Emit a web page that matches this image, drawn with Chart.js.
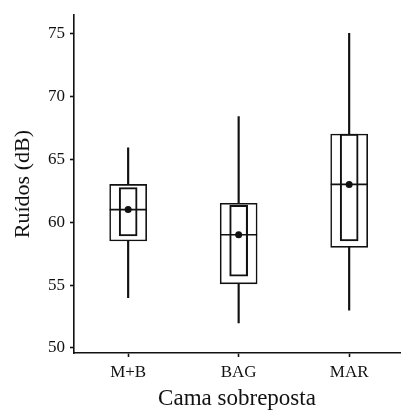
<!DOCTYPE html>
<html>
<head>
<meta charset="utf-8">
<script src="https://cdn.jsdelivr.net/npm/chart.js@4"></script>
<style>
  html, body { margin: 0; padding: 0; background: #fff; }
  #wrap { width: 401px; height: 410px; }
</style>
</head>
<body>
<div id="wrap"><canvas id="boxChart"></canvas></div>
<script>
// values
const categories = ['M+B', 'BAG', 'MAR'];
const whiskerLow = [54.0, 52.0, 53.0];
const boxLow = [58.5, 55.1, 58.0];
const boxHigh = [63.0, 61.5, 67.0];
const whiskerHigh = [65.9, 68.4, 75.0];
const innerLow = [58.9, 55.7, 58.5];
const innerHigh = [62.75, 61.35, 67.0];
const medians = [61.0, 59.0, 63.0];
const means = [61.0, 59.0, 63.0];
const yTicks = [50, 55, 60, 65, 70, 75];

const ink = '#111';
const serif = 'Liberation Serif';

const pos = (i) => i + 1;

const chart = new Chart(document.getElementById('boxChart'), {
  type: 'bar',
  data: {
    datasets: [
      {
        // lower whisker
        type: 'bar',
        data: categories.map((c, i) => ({ x: pos(i), y: [whiskerLow[i], boxLow[i]] })),
        backgroundColor: ink,
        borderWidth: 0,
        barThickness: 1.5,
        grouped: false,
        order: 5
      },
      {
        // upper whisker
        type: 'bar',
        data: categories.map((c, i) => ({ x: pos(i), y: [boxHigh[i], whiskerHigh[i]] })),
        backgroundColor: ink,
        borderWidth: 0,
        barThickness: 1.5,
        grouped: false,
        order: 5
      },
      {
        // outer box
        type: 'bar',
        data: categories.map((c, i) => ({ x: pos(i), y: [boxLow[i], boxHigh[i]] })),
        backgroundColor: '#fff',
        borderColor: ink,
        borderWidth: 1.6,
        borderSkipped: false,
        barThickness: 37,
        grouped: false,
        order: 4
      },
      {
        // inner box
        type: 'bar',
        data: categories.map((c, i) => ({ x: pos(i), y: [innerLow[i], innerHigh[i]] })),
        backgroundColor: 'rgba(0,0,0,0)',
        borderColor: ink,
        borderWidth: 1.4,
        borderSkipped: false,
        barThickness: 18,
        grouped: false,
        order: 3
      },
      {
        // median
        type: 'scatter',
        data: categories.map((c, i) => ({ x: pos(i), y: medians[i] })),
        pointStyle: 'line',
        radius: 18.5,
        borderColor: ink,
        borderWidth: 1.6,
        order: 2
      },
      {
        // mean
        type: 'scatter',
        data: categories.map((c, i) => ({ x: pos(i), y: means[i] })),
        pointStyle: 'circle',
        radius: 3.5,
        backgroundColor: ink,
        borderColor: ink,
        borderWidth: 0,
        order: 1
      }
    ]
  },
  options: {
    responsive: true,
    maintainAspectRatio: false,
    animation: false,
    events: [],
    layout: { autoPadding: false, padding: { top: 12, right: 1, left: 0, bottom: 0 } },
    plugins: { legend: { display: false }, tooltip: { enabled: false } },
    scales: {
      x: {
        type: 'linear',
        min: 0.51,
        max: 3.46,
        offset: false,
        afterBuildTicks: (s) => { s.ticks = categories.map((c, i) => ({ value: pos(i) })); },
        afterFit: (s) => { s.height = 57; },
        ticks: {
          color: ink,
          font: { family: serif, size: 17 },
          padding: 5,
          callback: (v) => categories[v - 1]
        },
        grid: { offset: false, drawOnChartArea: false, color: ink, tickLength: 4, tickWidth: 1.6 },
        border: { color: ink, width: 1.6 },
        title: {
          display: true,
          text: 'Cama sobreposta',
          color: ink,
          font: { family: serif, size: 23, lineHeight: 1 },
          padding: { top: 0, bottom: 0 }
        }
      },
      y: {
        min: 49.6,
        max: 76.45,
        afterBuildTicks: (s) => { s.ticks = yTicks.map((v) => ({ value: v })); },
        afterFit: (s) => { s.width = 74; },
        ticks: {
          color: ink,
          font: { family: serif, size: 17 },
          padding: 5
        },
        grid: { drawOnChartArea: false, color: ink, tickLength: 4, tickWidth: 1.6 },
        border: { color: ink, width: 1.6 },
        title: {
          display: true,
          text: 'Ruídos (dB)',
          color: ink,
          font: { family: serif, size: 22, lineHeight: 1 },
          padding: { top: 12, bottom: 0 }
        }
      }
    }
  }
});
</script>
</body>
</html>
